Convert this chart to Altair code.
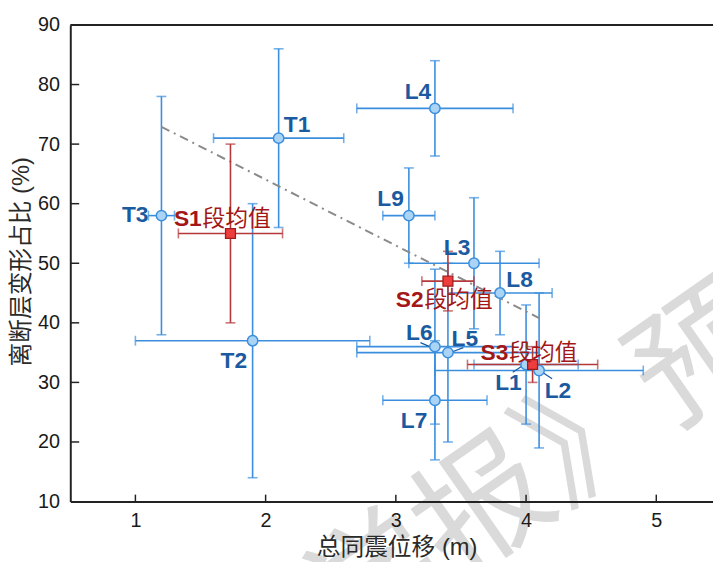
import altair as alt
import pandas as pd

# ---------------- data ----------------
site_names = ["T1", "T2", "T3", "L1", "L2", "L3", "L4", "L5", "L6", "L7", "L8", "L9"]
site_disp = [2.1, 1.9, 1.2, 4.0, 4.1, 3.6, 3.3, 3.4, 3.3, 3.3, 3.8, 3.1]
site_disp_lo = [1.6, 1.0, 1.1, 3.6, 3.3, 3.1, 2.7, 2.7, 2.7, 2.9, 3.4, 2.9]
site_disp_hi = [2.6, 2.8, 1.3, 4.4, 4.9, 4.1, 3.9, 4.1, 3.9, 3.7, 4.2, 3.3]
site_ratio = [71, 37, 58, 33, 32, 50, 76, 35, 36, 27, 45, 58]
site_ratio_lo = [56, 14, 38, 23, 19, 39, 68, 20, 23, 17, 38, 50]
site_ratio_hi = [86, 60, 78, 43, 45, 61, 84, 50, 49, 37, 52, 66]
site_label_x = [2.14, 1.756, 1.10, 3.865, 4.245, 3.47, 3.17, 3.53, 3.18, 3.14, 3.95, 2.96]
site_label_y = [73.2, 33.6, 58.1, 29.95, 28.6, 52.6, 78.7, 37.35, 38.3, 23.5, 47.2, 60.7]
site_label_align = ["left", "center", "right", "center", "center", "center",
                    "center", "center", "center", "center", "center", "center"]

seg_names = ["S1", "S2", "S3"]
seg_suffix = ["段均值", "段均值", "段均值"]
seg_disp = [1.73, 3.4, 4.05]
seg_disp_lo = [1.33, 3.2, 3.55]
seg_disp_hi = [2.13, 3.6, 4.55]
seg_ratio = [55, 47, 33]
seg_ratio_lo = [40, 42, 30]
seg_ratio_hi = [70, 52, 36]
seg_label_x = [1.296, 3.00, 3.65]
seg_label_y = [57.4, 43.9, 34.9]

trend_x = [1.2, 4.1]
trend_y = [72.9, 40.8]

leader_x = [3.189, 3.518, 3.898, 4.20]
leader_y = [36.67, 35.84, 31.7, 30.6]
leader_x2 = [3.278, 3.43, 3.973, 4.125]
leader_y2 = [35.84, 35.1, 32.8, 31.7]

x_ticks = [1, 2, 3, 4, 5]
y_ticks = [10, 20, 30, 40, 50, 60, 70, 80, 90]

x_title = "总同震位移 (m)"
y_title = "离断层变形占比 (%)"
watermark_text = "《地震学报》预印本"

# ---------------- tables ----------------
sites = pd.DataFrame({
    "name": site_names, "x": site_disp, "xlo": site_disp_lo, "xhi": site_disp_hi,
    "y": site_ratio, "ylo": site_ratio_lo, "yhi": site_ratio_hi,
    "lx": site_label_x, "ly": site_label_y, "align": site_label_align,
})
segs = pd.DataFrame({
    "name": seg_names, "suffix": seg_suffix, "x": seg_disp, "xlo": seg_disp_lo,
    "xhi": seg_disp_hi, "y": seg_ratio, "ylo": seg_ratio_lo, "yhi": seg_ratio_hi,
    "lx": seg_label_x, "ly": seg_label_y,
})
trend = pd.DataFrame({"x": trend_x, "y": trend_y})
leaders = pd.DataFrame({"x": leader_x, "y": leader_y, "x2": leader_x2, "y2": leader_y2})
xt = pd.DataFrame({"t": x_ticks})
yt = pd.DataFrame({"t": y_ticks[1:-1]})

W, H = 650, 482
xs = alt.Scale(domain=[0.5, 5.4355], nice=False, zero=False)
ys = alt.Scale(domain=[10, 90], nice=False, zero=False)

FONT = "Liberation Sans, Arial, Noto Sans CJK SC"
x_axis = alt.Axis(values=x_ticks, title=x_title, ticks=False, tickSize=0, grid=False,
                  labelPadding=9, titleX=330, titleY=54, titleAlign="center",
                  titleBaseline="alphabetic", titleAnchor="middle", zindex=1)
y_axis = alt.Axis(values=y_ticks, title=y_title, ticks=False, tickSize=0, grid=False,
                  labelPadding=11, titleX=-49, titleY=239, titleAngle=270,
                  titleAlign="center", titleBaseline="middle", titleAnchor="middle",
                  zindex=1)


def X(f):
    return alt.X(f, type="quantitative", scale=xs, axis=x_axis)


def Y(f):
    return alt.Y(f, type="quantitative", scale=ys, axis=y_axis)


BLUE = "#3b8ede"
BLUE_FILL = "#aad4f6"
BLUE_TEXT = "#1a5aa0"
RED = "#b5383a"
RED_FILL = "#ee3d3d"
RED_TEXT = "#a31717"

watermark = alt.Chart(pd.DataFrame({"t": [watermark_text]})).mark_text(
    font="Noto Sans CJK SC", fontSize=134, fontWeight="normal", color="#dadada", angle=325,
    align="center", baseline="middle"
).encode(text="t:N", x=alt.value(420), y=alt.value(492))

top_border = alt.Chart(pd.DataFrame({"y": [90]})).mark_rule(
    color="#222", strokeWidth=2).encode(y=Y("y"), x=alt.value(0), x2=alt.value(W))

x_tick_marks = alt.Chart(xt).mark_rule(color="#222", strokeWidth=1.5).encode(
    x=X("t"), y=alt.value(H), y2=alt.value(H - 7))
y_tick_marks = alt.Chart(yt).mark_rule(color="#222", strokeWidth=1.5).encode(
    y=Y("t"), x=alt.value(0), x2=alt.value(9))

trend_line = alt.Chart(trend).mark_line(
    color="#8a8a8a", strokeWidth=2, strokeDash=[9, 5, 2, 5]).encode(x=X("x"), y=Y("y"))


def bars(df, color):
    base = alt.Chart(df)
    h = base.mark_rule(color=color, strokeWidth=1.6).encode(x=X("xlo"), x2="xhi", y=Y("y"))
    v = base.mark_rule(color=color, strokeWidth=1.6).encode(x=X("x"), y=Y("ylo"), y2="yhi")
    c1 = base.mark_tick(color=color, orient="vertical", size=10, thickness=1.6).encode(x=X("xlo"), y=Y("y"))
    c2 = base.mark_tick(color=color, orient="vertical", size=10, thickness=1.6).encode(x=X("xhi"), y=Y("y"))
    c3 = base.mark_tick(color=color, orient="horizontal", size=10, thickness=1.6).encode(x=X("x"), y=Y("ylo"))
    c4 = base.mark_tick(color=color, orient="horizontal", size=10, thickness=1.6).encode(x=X("x"), y=Y("yhi"))
    return [h, v, c1, c2, c3, c4]


blue_bars = bars(sites, BLUE)
red_bars = bars(segs, RED)

leader_lines = alt.Chart(leaders).mark_rule(color=BLUE_TEXT, strokeWidth=1.2).encode(
    x=X("x"), y=Y("y"), x2="x2", y2="y2")

site_pts = alt.Chart(sites).mark_point(
    shape="circle", filled=True, fill=BLUE_FILL, stroke=BLUE, strokeWidth=1.5,
    size=110, opacity=1).encode(x=X("x"), y=Y("y"))

seg_pts = alt.Chart(segs).mark_point(
    shape="square", filled=True, fill=RED_FILL, stroke="#a01c1c", strokeWidth=1.3,
    size=100, opacity=1).encode(x=X("x"), y=Y("y"))

site_labels = []
for al in ["left", "center", "right"]:
    site_labels.append(
        alt.Chart(sites[sites["align"] == al]).mark_text(
            font="Liberation Sans", fontSize=23, fontWeight="bold", color=BLUE_TEXT,
            align=al, baseline="middle").encode(x=X("lx"), y=Y("ly"), text="name:N"))

seg_label_a = alt.Chart(segs).mark_text(
    font="Liberation Sans", fontSize=23, fontWeight="bold", color=RED_TEXT,
    align="left", baseline="middle").encode(x=X("lx"), y=Y("ly"), text="name:N")
seg_label_b = alt.Chart(segs).mark_text(
    font="Noto Sans CJK SC", fontSize=23, fontWeight="normal", color=RED_TEXT,
    align="left", baseline="middle", dx=29).encode(x=X("lx"), y=Y("ly"), text="suffix:N")

chart = alt.layer(
    watermark, top_border, x_tick_marks, y_tick_marks,
    *blue_bars, trend_line, *red_bars, leader_lines,
    site_pts, seg_pts, *site_labels, seg_label_a, seg_label_b,
).properties(
    width=W, height=H,
    autosize=alt.AutoSizeParams(type="none"),
    padding={"left": 63, "top": 14, "right": 0, "bottom": 60},
).configure_view(strokeWidth=0).configure_axis(
    labelFont="Liberation Sans", labelFontSize=20, labelColor="#1a1a1a",
    titleFont=FONT, titleFontSize=24, titleFontWeight="normal", titleColor="#2a2a2a",
    domainColor="#222", domainWidth=2,
)

chart.save("out.html", embed_options={"renderer": "svg", "actions": False})
